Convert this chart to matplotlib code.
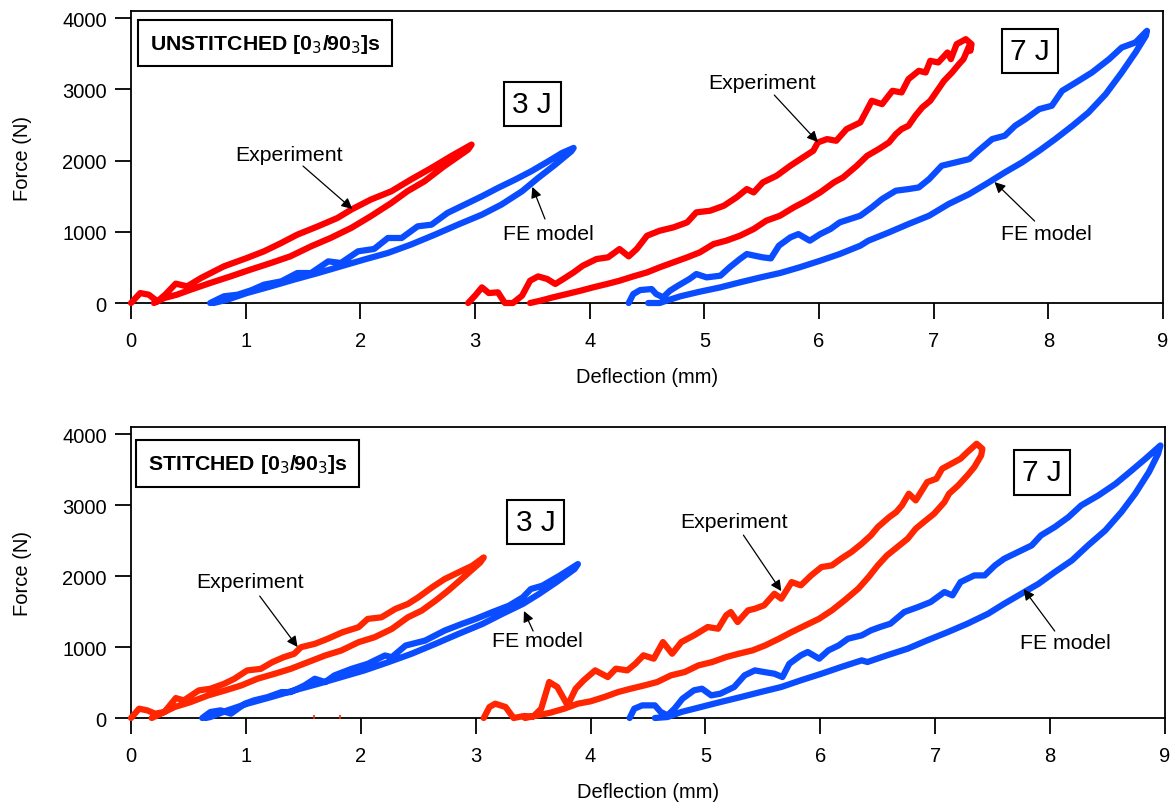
import numpy as np
from matplotlib import pyplot as plt

plt.rcParams['font.family'] = ['Liberation Sans', 'DejaVu Sans']

# (deflection mm, force N) read along each loop: loading branch then unloading branch
# ---- UNSTITCHED ----
u3_exp = [(0.0, 0), (0.08, 140), (0.155, 117), (0.23, 23), (0.3, 120), (0.39, 272), (0.49, 234),
          (0.61, 351), (0.81, 515), (1.01, 632), (1.16, 726), (1.31, 843), (1.45, 960), (1.63, 1077),
          (1.80, 1194), (1.92, 1311), (2.09, 1452), (2.27, 1569), (2.44, 1733), (2.62, 1897),
          (2.79, 2061), (2.97, 2225),
          (2.94, 2155), (2.73, 1920), (2.56, 1710), (2.41, 1569), (2.27, 1405), (2.09, 1218),
          (1.92, 1054), (1.74, 913), (1.57, 796), (1.39, 656), (1.22, 562), (1.04, 468), (0.87, 375),
          (0.69, 281), (0.52, 187), (0.40, 117), (0.29, 70), (0.20, 0)]
u3_fe = [(0.69, 0), (0.81, 94), (0.93, 117), (1.05, 180), (1.16, 258), (1.31, 304), (1.45, 421),
         (1.57, 421), (1.72, 585), (1.83, 562), (1.98, 726), (2.12, 759), (2.24, 913), (2.36, 913),
         (2.50, 1077), (2.62, 1100), (2.76, 1265), (2.91, 1382), (3.06, 1499), (3.20, 1616),
         (3.35, 1733), (3.49, 1850), (3.64, 1991), (3.76, 2108), (3.86, 2178),
         (3.84, 2131), (3.70, 1944), (3.55, 1756), (3.41, 1569), (3.23, 1382), (3.06, 1241),
         (2.85, 1100), (2.65, 960), (2.44, 820), (2.24, 703), (2.03, 609), (1.83, 515), (1.63, 421),
         (1.42, 328), (1.22, 234), (1.01, 140), (0.84, 47), (0.72, 0)]
u7_exp = [(2.94, 0), (3.0, 103), (3.06, 220), (3.12, 140), (3.20, 150), (3.26, 0), (3.33, 0),
          (3.41, 103), (3.48, 313), (3.55, 374), (3.63, 337), (3.70, 267), (3.77, 337), (3.86, 430),
          (3.94, 524), (4.06, 618), (4.16, 641), (4.26, 758), (4.34, 655), (4.41, 758), (4.50, 945),
          (4.61, 1015), (4.73, 1062), (4.85, 1132), (4.93, 1273), (5.05, 1296), (5.17, 1366),
          (5.28, 1483), (5.37, 1600), (5.43, 1553), (5.51, 1694), (5.63, 1787), (5.75, 1928),
          (5.86, 2044), (5.95, 2138), (5.99, 2255), (6.07, 2302), (6.15, 2278), (6.24, 2442),
          (6.36, 2536), (6.46, 2840), (6.55, 2793), (6.64, 2980), (6.72, 2957), (6.78, 3144),
          (6.87, 3261), (6.93, 3237), (6.97, 3401), (7.04, 3378), (7.12, 3518), (7.15, 3425),
          (7.20, 3635), (7.28, 3705), (7.33, 3635), (7.32, 3542),
          (7.31, 3612), (7.26, 3425), (7.22, 3354), (7.16, 3237), (7.09, 3120), (7.04, 3003),
          (6.97, 2840), (6.90, 2746), (6.84, 2629), (6.78, 2489), (6.72, 2442), (6.67, 2372),
          (6.61, 2255), (6.52, 2161), (6.42, 2068), (6.33, 1928), (6.21, 1764), (6.13, 1694),
          (6.01, 1553), (5.89, 1436), (5.78, 1343), (5.66, 1226), (5.54, 1156), (5.43, 1039),
          (5.31, 945), (5.19, 875), (5.08, 828), (4.96, 711), (4.85, 641), (4.73, 571), (4.61, 501),
          (4.50, 430), (4.38, 374), (4.26, 313), (4.15, 267), (4.03, 220), (3.92, 173), (3.80, 126),
          (3.68, 80), (3.57, 33), (3.48, 0)]
u7_fe = [(4.34, 0), (4.38, 126), (4.44, 182), (4.54, 196), (4.58, 126), (4.64, 80), (4.70, 173),
         (4.77, 243), (4.87, 337), (4.93, 407), (5.02, 360), (5.14, 384), (5.22, 501), (5.31, 618),
         (5.37, 688), (5.44, 664), (5.51, 641), (5.58, 627), (5.65, 805), (5.75, 922), (5.82, 968),
         (5.92, 875), (6.01, 968), (6.10, 1039), (6.18, 1132), (6.27, 1179), (6.36, 1226),
         (6.46, 1343), (6.55, 1460), (6.67, 1577), (6.78, 1600), (6.87, 1623), (6.96, 1740),
         (7.07, 1928), (7.19, 1974), (7.31, 2021), (7.39, 2138), (7.51, 2302), (7.62, 2349),
         (7.71, 2489), (7.80, 2582), (7.92, 2723), (8.03, 2770), (8.12, 2980), (8.24, 3097),
         (8.38, 3237), (8.53, 3425), (8.64, 3588), (8.76, 3659), (8.86, 3822),
         (8.85, 3752), (8.76, 3518), (8.64, 3237), (8.50, 2933), (8.35, 2676), (8.21, 2489),
         (8.06, 2302), (7.92, 2138), (7.77, 1974), (7.62, 1834), (7.48, 1694), (7.31, 1530),
         (7.13, 1390), (6.96, 1226), (6.78, 1109), (6.61, 992), (6.43, 875), (6.36, 805),
         (6.18, 688), (6.01, 594), (5.83, 501), (5.66, 421), (5.49, 360), (5.31, 290), (5.14, 220),
         (4.96, 159), (4.79, 94), (4.67, 33), (4.61, 0), (4.51, 0)]

# ---- STITCHED ----
s3_exp = [(0.0, 0), (0.07, 131), (0.14, 108), (0.21, 61), (0.29, 84), (0.39, 281), (0.46, 248),
          (0.59, 389), (0.69, 412), (0.81, 482), (0.90, 553), (1.01, 670), (1.13, 693), (1.23, 787),
          (1.33, 857), (1.42, 904), (1.48, 998), (1.60, 1045), (1.71, 1115), (1.84, 1208),
          (1.98, 1279), (2.06, 1396), (2.18, 1419), (2.30, 1536), (2.41, 1607), (2.50, 1700),
          (2.62, 1841), (2.73, 1958), (2.85, 2052), (2.97, 2145), (3.07, 2262),
          (3.04, 2192), (2.91, 2005), (2.76, 1794), (2.65, 1653), (2.53, 1513), (2.41, 1419),
          (2.27, 1255), (2.12, 1138), (1.98, 1068), (1.83, 951), (1.69, 881), (1.54, 787),
          (1.39, 693), (1.25, 623), (1.10, 553), (0.96, 459), (0.82, 389), (0.67, 318), (0.52, 225),
          (0.38, 155), (0.26, 61), (0.18, 0)]
s3_fe = [(0.62, 0), (0.69, 84), (0.78, 108), (0.87, 61), (0.99, 201), (1.07, 248), (1.19, 295),
         (1.31, 365), (1.39, 365), (1.51, 459), (1.60, 553), (1.69, 506), (1.77, 600), (1.92, 693),
         (2.06, 763), (2.21, 881), (2.27, 857), (2.39, 1021), (2.56, 1091), (2.73, 1232),
         (2.88, 1326), (3.00, 1396), (3.14, 1489), (3.29, 1583), (3.41, 1700), (3.48, 1817),
         (3.58, 1864), (3.73, 2005), (3.89, 2169),
         (3.86, 2098), (3.70, 1911), (3.55, 1747), (3.41, 1607), (3.23, 1466), (3.06, 1326),
         (2.85, 1185), (2.65, 1045), (2.44, 904), (2.24, 787), (2.03, 670), (1.83, 576),
         (1.63, 482), (1.42, 389), (1.22, 295), (1.01, 201), (0.84, 108), (0.69, 14), (0.65, 0)]
s7_exp = [(3.07, 0), (3.12, 155), (3.17, 202), (3.26, 155), (3.33, 0), (3.42, 28), (3.50, 20),
          (3.57, 131), (3.64, 507), (3.71, 437), (3.80, 178), (3.87, 413), (3.94, 531), (4.04, 671),
          (4.15, 577), (4.22, 695), (4.32, 671), (4.39, 765), (4.46, 883), (4.55, 836), (4.63, 1070),
          (4.71, 906), (4.79, 1070), (4.90, 1164), (5.02, 1282), (5.11, 1258), (5.18, 1446),
          (5.22, 1493), (5.28, 1352), (5.37, 1516), (5.43, 1540), (5.51, 1587), (5.60, 1751),
          (5.66, 1681), (5.75, 1915), (5.83, 1869), (5.92, 2009), (6.01, 2127), (6.10, 2150),
          (6.18, 2244), (6.27, 2338), (6.36, 2455), (6.44, 2573), (6.50, 2690), (6.60, 2831),
          (6.66, 2901), (6.71, 2995), (6.77, 3160), (6.83, 3066), (6.93, 3324), (7.01, 3371),
          (7.06, 3512), (7.14, 3582), (7.22, 3653), (7.28, 3746), (7.36, 3864), (7.41, 3793),
          (7.40, 3700), (7.34, 3535), (7.28, 3418), (7.20, 3277), (7.12, 3160), (7.08, 3042),
          (6.99, 2878), (6.90, 2761), (6.83, 2667), (6.76, 2526), (6.67, 2408), (6.58, 2291),
          (6.50, 2150), (6.42, 1986), (6.33, 1822), (6.21, 1657), (6.10, 1516), (5.99, 1399),
          (5.87, 1305), (5.75, 1211), (5.64, 1117), (5.52, 1023), (5.41, 953), (5.29, 906),
          (5.18, 859), (5.06, 789), (4.94, 742), (4.82, 648), (4.70, 601), (4.58, 507), (4.47, 460),
          (4.35, 413), (4.24, 366), (4.12, 296), (4.00, 235), (3.89, 202), (3.77, 131), (3.65, 75),
          (3.54, 38), (3.43, 0)]
s7_fe = [(4.34, 0), (4.38, 131), (4.45, 178), (4.56, 178), (4.61, 85), (4.67, 38), (4.73, 131),
         (4.80, 272), (4.90, 390), (4.97, 413), (5.05, 319), (5.13, 343), (5.25, 437), (5.34, 601),
         (5.43, 671), (5.51, 648), (5.60, 624), (5.67, 577), (5.73, 765), (5.83, 883), (5.89, 930),
         (5.99, 836), (6.07, 953), (6.16, 1023), (6.24, 1117), (6.36, 1164), (6.44, 1235),
         (6.52, 1282), (6.61, 1329), (6.73, 1493), (6.85, 1563), (6.96, 1634), (7.08, 1775),
         (7.15, 1728), (7.22, 1915), (7.34, 2009), (7.43, 2009), (7.52, 2150), (7.60, 2244),
         (7.72, 2338), (7.84, 2432), (7.92, 2573), (8.04, 2690), (8.16, 2831), (8.27, 2995),
         (8.42, 3136), (8.57, 3300), (8.71, 3488), (8.83, 3653), (8.96, 3840),
         (8.94, 3723), (8.86, 3465), (8.74, 3160), (8.62, 2901), (8.48, 2643), (8.33, 2432),
         (8.19, 2221), (8.04, 2056), (7.90, 1892), (7.75, 1751), (7.60, 1610), (7.46, 1469),
         (7.28, 1329), (7.11, 1211), (6.93, 1094), (6.76, 977), (6.58, 883), (6.41, 789),
         (6.36, 812), (6.18, 718), (6.01, 624), (5.83, 531), (5.66, 437), (5.48, 366), (5.31, 296),
         (5.13, 225), (4.96, 155), (4.79, 85), (4.67, 14), (4.56, 0)]
s_stray = [1.59, 1.82]

xticks = [0, 1, 2, 3, 4, 5, 6, 7, 8, 9]
yticks = [0, 1000, 2000, 3000, 4000]

panels = [
    dict(rect=[0.1117, 0.6214, 0.8798, 0.3636], title='UNSTITCHED [0$_3$/90$_3$]s', red='#ff0000',
         curves=(u3_exp, u3_fe, u7_exp, u7_fe), tpos=(0.13, 0.89),
         boxes=[(3.50, 2794, '3 J'), (7.84, 3538, '7 J')],
         notes=[('Experiment', (1.38, 2092), (1.50, 1923), (1.93, 1320)),
                ('FE model', (3.64, 983), (3.61, 1180), (3.50, 1630)),
                ('Experiment', (5.50, 3103), (5.61, 2920), (5.99, 2260)),
                ('FE model', (7.98, 983), (7.88, 1151), (7.53, 1699))]),
    dict(rect=[0.1117, 0.1046, 0.8815, 0.3624], title='STITCHED [0$_3$/90$_3$]s', red='#ff2600',
         curves=(s3_exp, s3_fe, s7_exp, s7_fe), tpos=(0.113, 0.875),
         boxes=[(3.52, 2760, '3 J'), (7.93, 3464, '7 J')],
         notes=[('Experiment', (1.04, 1930), (1.12, 1718), (1.45, 1000)),
                ('FE model', (3.54, 1098), (3.50, 1225), (3.42, 1507)),
                ('Experiment', (5.25, 2774), (5.33, 2577), (5.66, 1788)),
                ('FE model', (8.13, 1070), (8.04, 1225), (7.77, 1816))]),
]
blue = '#0a4cff'

fig = plt.figure(figsize=(11.73, 8.03), dpi=100)
for i, p in enumerate(panels):
    ax = fig.add_axes(p['rect'])
    exp3, fe3, exp7, fe7 = p['curves']
    for c, col in ((exp3, p['red']), (fe3, blue), (exp7, p['red']), (fe7, blue)):
        xs, fs = zip(*c)
        ax.plot(xs, fs, color=col, lw=4.5, solid_capstyle='round', solid_joinstyle='round',
                clip_on=False, zorder=3)
    if i == 1:
        ax.plot(s_stray, [0] * len(s_stray), '|', color=p['red'], ms=5, mew=1.2, zorder=4)
    ax.set_xlim(0, 9)
    ax.set_ylim(0, 4100)
    ax.set_xticks(xticks)
    ax.set_yticks(yticks)
    ax.tick_params(axis='both', direction='out', length=11.5, width=1.3, labelsize=14.5)
    ax.tick_params(axis='x', pad=9)
    ax.tick_params(axis='y', pad=6)
    ax.tick_params(top=False, right=False)
    for s in ax.spines.values():
        s.set_linewidth(1.3)
    ax.set_xlabel('Deflection (mm)', fontsize=14.5, labelpad=12)
    ax.set_ylabel('Force (N)', fontsize=14.5, labelpad=22)
    ax.text(p['tpos'][0], p['tpos'][1], p['title'], transform=ax.transAxes, fontsize=15.3,
            fontweight='bold', ha='center', va='center',
            bbox=dict(boxstyle='square,pad=0.55', fc='white', ec='black', lw=1.5))
    for bx, by, lab in p['boxes']:
        ax.text(bx, by, lab, fontsize=21.5, ha='center', va='center',
                bbox=dict(boxstyle='square,pad=0.28', fc='white', ec='black', lw=1.5))
    for lab, tp, a0, a1 in p['notes']:
        ax.text(tp[0], tp[1], lab, fontsize=15.3, ha='center', va='center')
        ax.annotate('', xy=a1, xytext=a0,
                    arrowprops=dict(arrowstyle='-|>', color='black', lw=0.9,
                                    mutation_scale=16, shrinkA=0, shrinkB=0), zorder=5)

plt.savefig('out.png', dpi=100)
